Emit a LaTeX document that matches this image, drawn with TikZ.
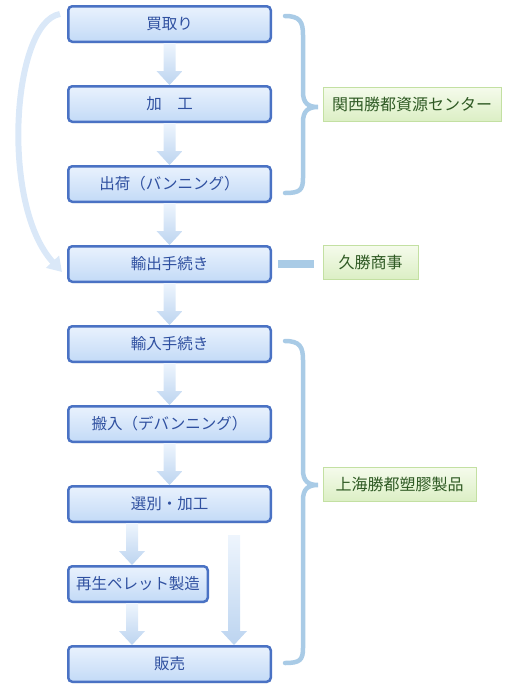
\documentclass[tikz,border=0pt]{standalone}
\usepackage{fontspec}
\setmainfont{Noto Sans CJK JP}
\usetikzlibrary{arrows.meta, positioning, calc, shadows}

\definecolor{boxline}{HTML}{4A72C4}
\definecolor{boxtop}{HTML}{E9F2FD}
\definecolor{boxbot}{HTML}{C3DAF7}
\definecolor{boxtext}{HTML}{2F50A0}
\definecolor{flowtop}{HTML}{EEF5FD}
\definecolor{flowbot}{HTML}{BCD4F0}
\definecolor{bracecol}{HTML}{A9CBE6}
\definecolor{tagline}{HTML}{C3E0A2}
\definecolor{tagtop}{HTML}{F5FBEC}
\definecolor{tagbot}{HTML}{DCEFC5}
\definecolor{tagtext}{HTML}{2F5A24}

% fat arrow between two boxes
\newcommand{\flowarrow}[2]{%
  \path[flowshade] ($(#1)+(-6,0)$) -- ($(#1 |- #2)+(-6,-14)$) -- ($(#1 |- #2)+(-13,-14)$)
    -- (#1 |- #2) -- ($(#1 |- #2)+(13,-14)$) -- ($(#1 |- #2)+(6,-14)$) -- ($(#1)+(6,0)$) -- cycle;}

\begin{document}
\begin{tikzpicture}[x=1pt, y=-1pt, node distance=42pt, >=Stealth]
        % Style definitions
        \tikzstyle{flow} = [draw=boxline, line width=2.5pt, rounded corners=4pt, top color=boxtop, bottom color=boxbot, minimum width=202.5pt, minimum height=35.5pt, inner sep=0pt, text=boxtext, font=\fontsize{15.5}{17}\selectfont, drop shadow={opacity=0.12, shadow xshift=1pt, shadow yshift=-1.5pt}]
        \tikzstyle{tag} = [draw=tagline, line width=1pt, top color=tagtop, bottom color=tagbot, minimum height=34pt, inner xsep=9pt, inner ysep=0pt, text=tagtext, font=\fontsize{16}{18}\selectfont]
        \tikzstyle{flowshade} = [top color=flowtop, bottom color=flowbot]
        \tikzstyle{brace} = [draw=bracecol, line width=4.5pt, line cap=round]

        \useasboundingbox (0,0) rectangle (505,689);

        % Flow Nodes
        \node [flow, anchor=north west] (buy) at (67,5) {買取り};
        \node [flow, below=of buy] (proc) {加　工};
        \node [flow, below=of proc] (ship) {出荷（バンニング）};
        \node [flow, below=of ship] (export) {輸出手続き};
        \node [flow, below=of export] (import) {輸入手続き};
        \node [flow, below=of import] (carry) {搬入（デバンニング）};
        \node [flow, below=of carry] (sort) {選別・加工};
        \node [flow, minimum width=139.5pt, below=of sort.south west, anchor=north west] (pellet) {再生ペレット製造};
        \node [flow, below=of pellet.south west, anchor=north west] (sale) {販売};

        % Company tags
        \node [tag, right=50.5pt of proc] (kansai) {関西勝都資源センター};
        \node [tag, minimum width=95pt, right=50.5pt of export, yshift=2pt] (kyusho) {久勝商事};
        \node [tag, minimum width=153pt, anchor=west] (shanghai) at ($(sort.east)+(50.5,-20)$) {上海勝都塑膠製品};

        % Arrows
        \flowarrow{buy.south}{proc.north}
        \flowarrow{proc.south}{ship.north}
        \flowarrow{ship.south}{export.north}
        \flowarrow{export.south}{import.north}
        \flowarrow{import.south}{carry.north}
        \flowarrow{carry.south}{sort.north}
        \coordinate (splitL) at ($(sort.south west)+(65,0)$);
        \flowarrow{splitL}{pellet.north}
        \coordinate (joinL) at ($(pellet.south west)+(65,0)$);
        \flowarrow{joinL}{sale.north}
        \coordinate (skip) at ($(sort.south west)+(167,12)$);
        \flowarrow{skip}{sale.north}

        \draw [line width=6pt, draw=flowtop!60!flowbot, -{Triangle[width=17pt, length=14pt]}]
              ([shift={(-7,9)}]buy.north west) .. controls (12,22) and (0,205) .. ([shift={(-5,8)}]export.west);

        \draw [draw=bracecol, line width=8pt] ([xshift=6pt]export.east) -- ([xshift=-9pt]kyusho.west |- export.east);

        % Braces
        \draw [brace] (285,16) .. controls (300,16) and (303,22) .. (303,35) -- (303,92)
              .. controls (303,103) and (308,107) .. (318,107) .. controls (308,107) and (303,111) .. (303,122)
              -- (303,178) .. controls (303,190) and (300,193) .. (285,193);
        \draw [brace] (285,341) .. controls (300,341) and (303,347) .. (303,360) -- (303,470)
              .. controls (303,481) and (308,485) .. (318,485) .. controls (308,485) and (303,489) .. (303,500)
              -- (303,648) .. controls (303,660) and (300,663) .. (285,663);
    \end{tikzpicture}
\end{document}
